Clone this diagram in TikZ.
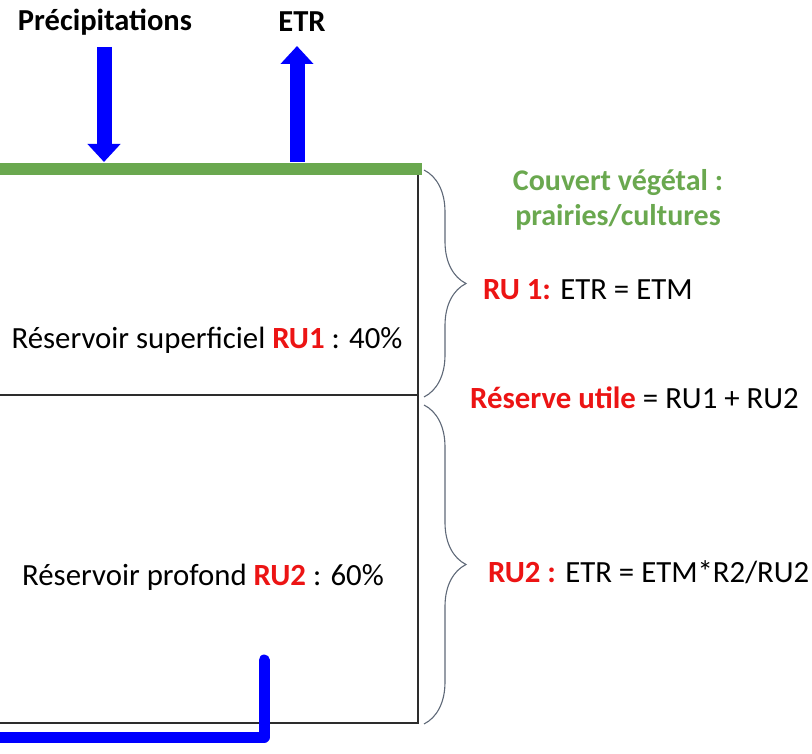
\documentclass[tikz,border=0pt]{standalone}
\usepackage{fontspec}
\setmainfont{Carlito}
\usetikzlibrary{arrows.meta,decorations.pathreplacing}
\definecolor{flowblue}{RGB}{0,0,255}
\definecolor{covergreen}{RGB}{106,168,79}
\definecolor{keyred}{RGB}{236,20,20}
\definecolor{bracegray}{RGB}{95,105,120}
\definecolor{boxgray}{RGB}{45,45,45}
\begin{document}
\begin{tikzpicture}[x=1pt,y=-1pt,
  lbl/.style={inner sep=0pt, font=\fontsize{30.8}{34}\selectfont},
  toplbl/.style={inner sep=0pt, font=\fontsize{30.5}{34}\selectfont\bfseries},
  greenlbl/.style={inner sep=0pt, text=covergreen, font=\fontsize{30}{34}\selectfont\bfseries},
  flow/.style={draw=flowblue, line width=15pt, -{Triangle[width=32pt,length=18pt]}},
  pipe/.style={draw=flowblue, line width=11pt, line cap=round, line join=round},
  boxline/.style={draw=boxgray, line width=1.5pt},
  bracestyle/.style={draw=bracegray, line width=1.1pt, decorate, decoration={brace, amplitude=42pt}}
]
\useasboundingbox (0,0) rectangle (812,754);
\clip (0,0) rectangle (812,754);
% reservoir box
\coordinate (tl) at (-10,170);
\coordinate (tr) at (418,170);
\coordinate (ml) at (-10,395);
\coordinate (mr) at (418,395);
\coordinate (bl) at (-10,723);
\coordinate (br) at (418,723);
\draw[boxline] (tl) -- (tr) -- (br) -- (bl);
\draw[boxline] (ml) -- (mr);
% vegetation cover
\coordinate (gl) at (-10,169);
\coordinate (gr) at (422,169);
\draw[draw=covergreen, line width=12pt] (gl) -- (gr);
% top labels and arrows
\node[toplbl] (prec) at (105,22) {Précipitations};
\node[toplbl] (etr) at (302,22) {ETR};
\coordinate (precA) at (104,47);
\coordinate (precB) at (104,162);
\coordinate (etrA) at (297,162);
\coordinate (etrB) at (297,46);
\draw[flow] (precA) -- (precB);
\draw[flow] (etrA) -- (etrB);
% drainage pipe
\coordinate (p1) at (-10,737);
\coordinate (p2) at (264,737);
\coordinate (p3) at (264,660);
\draw[pipe] (p1) -- (p2) -- (p3);
% reservoir labels
\node[lbl] (ru1) at (207,340) {Réservoir superficiel \textcolor{keyred}{\bfseries RU1} : 40\%};
\node[lbl] (ru2) at (203,577) {Réservoir profond \textcolor{keyred}{\bfseries RU2} : 60\%};
% braces
\coordinate (b1a) at (424,170);
\coordinate (b1b) at (424,397);
\coordinate (b2a) at (424,405);
\coordinate (b2b) at (424,724);
\draw[bracestyle] (b1a) -- (b1b);
\draw[bracestyle] (b2a) -- (b2b);
% right labels
\node[greenlbl] (cov1) at (618,183) {Couvert végétal :};
\node[greenlbl] (cov2) at (618,217) {prairies/cultures};
\node[lbl, anchor=west] (eq1) at (483,290) {\textcolor{keyred}{\bfseries RU 1:} ETR = ETM};
\node[lbl, anchor=west] (ru) at (470,398) {\textcolor{keyred}{\bfseries Réserve utile} = RU1 + RU2};
\node[lbl, anchor=west] (eq2) at (488,572) {\textcolor{keyred}{\bfseries RU2 :} ETR = ETM*R2/RU2};
\end{tikzpicture}
\end{document}
